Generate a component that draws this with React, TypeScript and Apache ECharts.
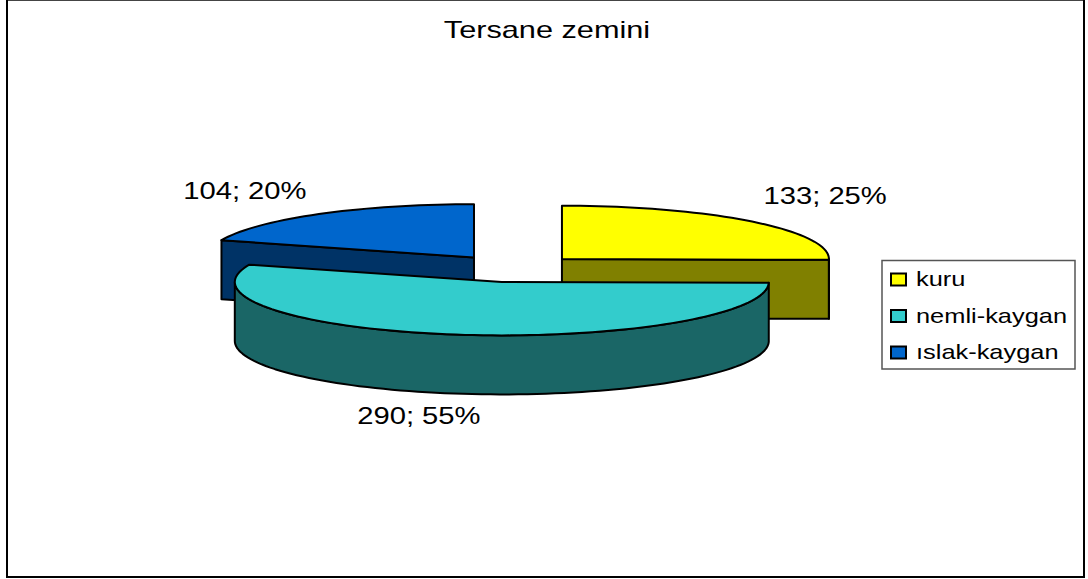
import React, { useEffect, useRef } from "react";
import * as echarts from "echarts";

const titleText = "Tersane zemini";
const categories = ["kuru", "nemli-kaygan", "ıslak-kaygan"];
const values = [133, 290, 104];
const topColors = ["#FFFF00", "#33CCCC", "#0066CC"];
const sideColors = ["#808000", "#1A6666", "#003366"];
const labelShift = [[73, -25], [-37, 23], [-74, -23]];
const drawOrder = [2, 3, 2];

const W = 1088;
const H = 579;
const FONT = "'Liberation Sans', Arial, sans-serif";
const CX = 513.5;
const CY = 268.6;
const RX = 267;
const TILT = 0.2;
const EXPLODE = 68;
const DEPTH = 59;
const STROKE = { stroke: "#000", lineWidth: 2, lineJoin: "round" as const };

const total = values.reduce((a, b) => a + b, 0);
const starts = values.map((_, i) => (values.slice(0, i).reduce((a, b) => a + b, 0) / total) * 2 * Math.PI);

function rim(cx: number, cy: number, a: number, b: number, dy = 0): number[][] {
  const n = Math.max(2, Math.ceil(((b - a) * 180) / Math.PI / 2));
  const out: number[][] = [];
  for (let k = 0; k <= n; k++) {
    const t = a + ((b - a) * k) / n;
    out.push([cx + RX * Math.sin(t), cy - RX * TILT * Math.cos(t) + dy]);
  }
  return out;
}

function sliceItem(i: number) {
  return (_params: unknown, api: any) => {
    const v = api.value(0) as number;
    const a = starts[i];
    const b = a + (v / total) * 2 * Math.PI;
    const mid = (a + b) / 2;
    const cx = CX + EXPLODE * Math.sin(mid);
    const cy = CY - EXPLODE * TILT * Math.cos(mid);
    const side = { fill: sideColors[i], ...STROKE };
    const children: any[] = [];
    const cut = (t: number) => {
      const [p] = rim(cx, cy, t, t);
      children.push({
        type: "polygon",
        shape: { points: [[cx, cy], p, [p[0], p[1] + DEPTH], [cx, cy + DEPTH]] },
        style: side,
      });
    };
    if (Math.sin(a) < -1e-6) cut(a);
    if (Math.sin(b) > 1e-6) cut(b);
    const wa = Math.max(a, Math.PI / 2);
    const wb = Math.min(b, (3 * Math.PI) / 2);
    if (wb > wa) {
      const top = rim(cx, cy, wa, wb);
      const bottom = rim(cx, cy, wa, wb, DEPTH).reverse();
      children.push({ type: "polygon", shape: { points: [...top, ...bottom] }, style: side });
    }
    children.push({
      type: "polygon",
      shape: { points: [[cx, cy], ...rim(cx, cy, a, b)] },
      style: { fill: topColors[i], ...STROKE },
    });
    const pct = Math.round((v / total) * 100);
    const rimY = cy - RX * TILT * Math.cos(mid) + (Math.cos(mid) < 0 ? DEPTH : 0);
    children.push({
      type: "text",
      x: cx + RX * Math.sin(mid) + labelShift[i][0],
      y: rimY + labelShift[i][1],
      scaleX: 1.27,
      style: {
        text: `${v}; ${pct}%`,
        fontFamily: FONT,
        fontSize: 23,
        fill: "#000",
        textAlign: "center",
        textVerticalAlign: "middle",
      },
    });
    return { type: "group", children };
  };
}

export default function App() {
  const ref = useRef<HTMLDivElement>(null);
  useEffect(() => {
    const chart = echarts.init(ref.current!, undefined, { renderer: "svg" });
    const legendRows = categories.flatMap((name, i) => {
      const rowY = 279.5 + i * 36.5;
      return [
        {
          type: "rect",
          shape: { x: 891, y: rowY - 6, width: 15, height: 12 },
          style: { fill: topColors[i], stroke: "#000", lineWidth: 2 },
        },
        {
          type: "text",
          x: 916,
          y: rowY + 10,
          scaleX: 1.21,
          style: { text: name, fontFamily: FONT, fontSize: 21, fill: "#000", textAlign: "left", textVerticalAlign: "bottom" },
        },
      ];
    });
    chart.setOption({
      animation: false,
      backgroundColor: "#fff",
      graphic: [
        { type: "line", shape: { x1: 7, y1: 0.5, x2: 1084, y2: 0.5 }, style: { stroke: "#444", lineWidth: 1 } },
        {
          type: "polyline",
          shape: { points: [[7, 0], [7, 577], [1084, 577], [1084, 0]] },
          style: { fill: "none", stroke: "#000", lineWidth: 2 },
        },
        {
          type: "text",
          x: 547,
          y: 30,
          scaleX: 1.335,
          style: { text: titleText, fontFamily: FONT, fontSize: 23, fill: "#000", textAlign: "center", textVerticalAlign: "middle" },
        },
        {
          type: "rect",
          shape: { x: 882, y: 260.5, width: 193, height: 108.5 },
          style: { fill: "#fff", stroke: "#555", lineWidth: 1.5 },
        },
        ...legendRows,
      ],
      series: categories.map((name, i) => ({
        type: "custom",
        name,
        coordinateSystem: "none",
        z: drawOrder[i],
        silent: true,
        data: [[values[i]]],
        renderItem: sliceItem(i),
      })),
    });
    return () => chart.dispose();
  }, []);
  return <div ref={ref} style={{ position: "absolute", left: 0, top: 0, width: W, height: H }} />;
}
